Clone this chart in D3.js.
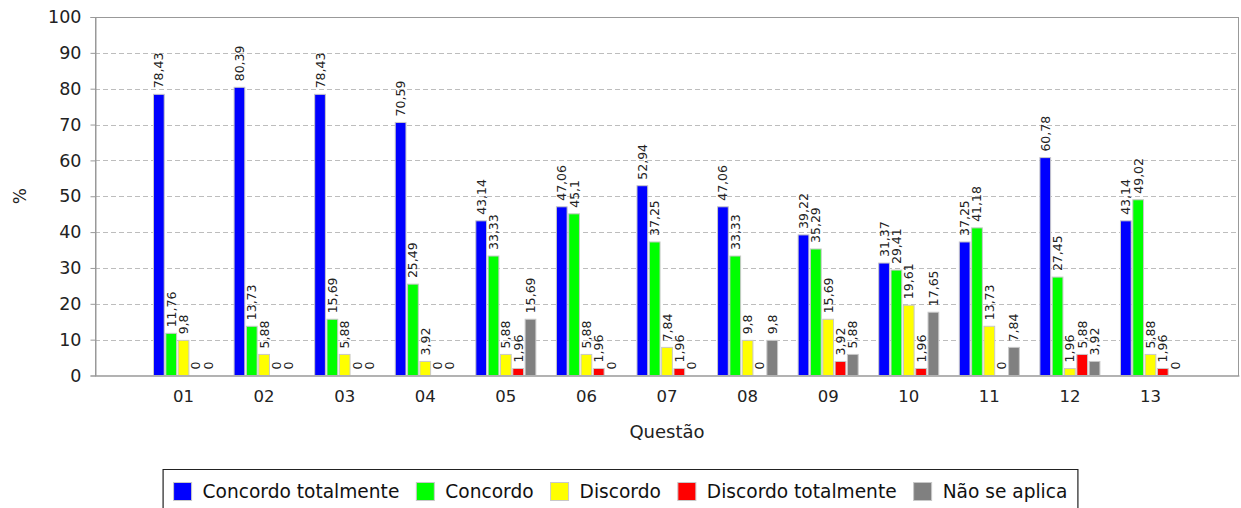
<!DOCTYPE html>
<html>
<head>
<meta charset="utf-8">
<script src="https://cdn.jsdelivr.net/npm/d3@7"></script>
<style>
  body { margin: 0; background: #fff; }
  svg { display: block; font-family: "DejaVu Sans", sans-serif; }
</style>
</head>
<body>
<svg id="chart" width="1241" height="508"></svg>
<script>
const categories = ["01","02","03","04","05","06","07","08","09","10","11","12","13"];
const seriesNames = ["Concordo totalmente","Concordo","Discordo","Discordo totalmente","Não se aplica"];
const concordoTotalmente = [78.43,80.39,78.43,70.59,43.14,47.06,52.94,47.06,39.22,31.37,37.25,60.78,43.14];
const concordo           = [11.76,13.73,15.69,25.49,33.33,45.1,37.25,33.33,35.29,29.41,41.18,27.45,49.02];
const discordo           = [9.8,5.88,5.88,3.92,5.88,5.88,7.84,9.8,15.69,19.61,13.73,1.96,5.88];
const discordoTotalmente = [0,0,0,0,1.96,1.96,1.96,0,3.92,1.96,0,5.88,1.96];
const naoSeAplica        = [0,0,0,0,15.69,0,0,9.8,5.88,17.65,7.84,3.92,0];
const seriesColors = ["#0000ff","#00ff00","#ffff00","#ff0000","#808080"];
const yTicks = [0,10,20,30,40,50,60,70,80,90,100];
const xTitle = "Questão";
const yTitle = "%";

const seriesValues = [concordoTotalmente, concordo, discordo, discordoTotalmente, naoSeAplica];

const svg = d3.select("#chart");
const L = 95, R = 1239, T = 17, B = 375.5;

const x0 = d3.scaleBand().domain(categories).range([L, R]).paddingInner(0.255).paddingOuter(0.726);
const x1 = d3.scaleBand().domain(seriesNames).range([0, x0.bandwidth()]).paddingInner(0.13).paddingOuter(0);
const y = d3.scaleLinear().domain([0, 100]).range([B, T]);
const color = d3.scaleOrdinal().domain(seriesNames).range(seriesColors);

// gridlines
svg.append("g").selectAll("line")
  .data(yTicks.filter(t => t > 0 && t < 100))
  .join("line")
  .attr("x1", L).attr("x2", R)
  .attr("y1", d => Math.round(y(d)) + 0.5).attr("y2", d => Math.round(y(d)) + 0.5)
  .attr("stroke", "#bdbdbd").attr("stroke-width", 1).attr("stroke-dasharray", "5,3");

// plot border
svg.append("rect").attr("x", L + 0.5).attr("y", T + 0.5).attr("width", R - L - 1).attr("height", B - T)
  .attr("fill", "none").attr("stroke", "#999").attr("stroke-width", 1);

// data rows
const rows = categories.map((c, i) => ({
  cat: c,
  vals: seriesNames.map((s, j) => ({ s, v: seriesValues[j][i] }))
}));

const groups = svg.append("g").selectAll("g").data(rows).join("g")
  .attr("transform", d => `translate(${x0(d.cat)},0)`);

groups.selectAll("rect").data(d => d.vals).join("rect")
  .attr("x", d => x1(d.s))
  .attr("y", d => y(d.v))
  .attr("width", x1.bandwidth())
  .attr("height", d => y(0) - y(d.v))
  .attr("fill", d => color(d.s))
  .attr("stroke", d => d.v > 0 ? "#c8c8c8" : "none")
  .attr("stroke-width", 1);

groups.selectAll("text").data(d => d.vals).join("text")
  .attr("transform", d => `translate(${x1(d.s) + x1.bandwidth() / 2},${y(d.v) - 6}) rotate(-90)`)
  .attr("text-anchor", "start")
  .attr("dominant-baseline", "central")
  .attr("font-size", 12.5)
  .attr("fill", "#222")
  .text(d => String(d.v).replace(".", ","));

// y axis
const yAxis = svg.append("g").attr("transform", `translate(${L + 0.5},0)`)
  .call(d3.axisLeft(y).tickValues(yTicks).tickSize(5).tickPadding(9));
yAxis.select(".domain").attr("stroke", "#999");
yAxis.selectAll(".tick line").attr("stroke", "#999");
yAxis.selectAll("text").attr("font-size", 17.5).attr("fill", "#222").attr("font-family", "DejaVu Sans");

// x axis
const xAxis = svg.append("g").attr("transform", `translate(0,${B})`)
  .call(d3.axisBottom(x0).tickSize(0).tickPadding(15));
xAxis.select(".domain").attr("stroke", "#999");
xAxis.selectAll("text").attr("font-size", 16.5).attr("fill", "#222").attr("font-family", "DejaVu Sans");

// titles
svg.append("text").attr("x", (L + R) / 2).attr("y", 438).attr("text-anchor", "middle")
  .attr("font-size", 18).attr("fill", "#222").text(xTitle);
svg.append("text").attr("transform", `translate(26,${(T + B) / 2}) rotate(-90)`).attr("text-anchor", "middle")
  .attr("font-size", 17).attr("fill", "#222").text(yTitle);

// legend
const lg = svg.append("g");
const items = lg.selectAll("g").data(seriesNames).join("g");
items.append("rect").attr("width", 18).attr("height", 18).attr("y", 482.5)
  .attr("fill", d => color(d)).attr("stroke", "#c8c8c8");
items.append("text").attr("x", 29).attr("y", 498).attr("font-size", 18.6).attr("fill", "#111").text(d => d);
let cx = 0;
const offs = [];
items.each(function () {
  const w = d3.select(this).select("text").node().getComputedTextLength();
  offs.push(cx);
  cx += 29 + w + 17;
});
const totalW = cx - 17;
const startX = 620.5 - totalW / 2;
items.attr("transform", (d, i) => `translate(${startX + offs[i]},0)`);
lg.append("path")
  .attr("d", `M${startX - 10.5},${512}V${469.5}H${startX + totalW + 10.5}V${512}`)
  .attr("fill", "none").attr("stroke", "#222").attr("stroke-width", 1.2);
</script>
</body>
</html>
